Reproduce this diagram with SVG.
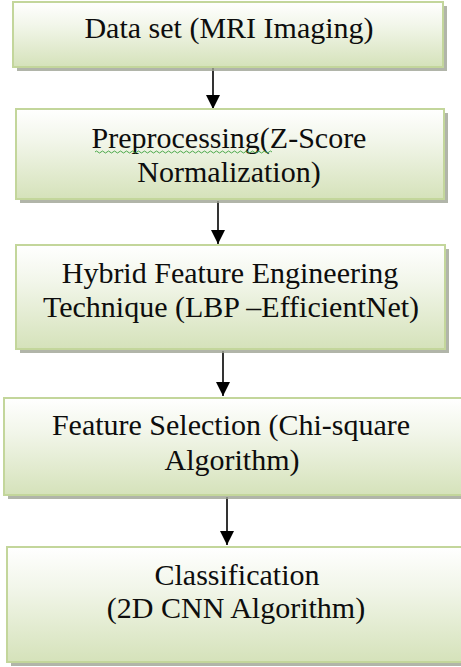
<svg xmlns="http://www.w3.org/2000/svg" width="461" height="667" viewBox="0 0 461 667">
<defs>
<linearGradient id="g" x1="0" y1="0" x2="0" y2="1">
<stop offset="0" stop-color="#ffffff"/>
<stop offset="0.35" stop-color="#f2f6ea"/>
<stop offset="1" stop-color="#d5e2ba"/>
</linearGradient>
<marker id="ah" markerWidth="14" markerHeight="14" refX="14" refY="7" orient="auto" markerUnits="userSpaceOnUse">
<path d="M0,0 L14,7 L0,14 Z" fill="#000"/>
</marker>
</defs>
<style>
.sh{fill:#9ea394;opacity:0.8}
.bx{fill:url(#g);stroke:#c3d69b;stroke-width:2}
text{font-family:'Liberation Serif','Times New Roman',serif;font-size:30px;fill:#0d0d0d;text-anchor:middle}
.c{stroke:#000;stroke-width:1.6;fill:none;marker-end:url(#ah)}
</style>
<rect width="461" height="667" fill="#fff"/>
<g id="connectors">
<line class="c" x1="213" y1="68" x2="213" y2="109"/>
<line class="c" x1="218" y1="201" x2="218" y2="244"/>
<line class="c" x1="223" y1="351" x2="223" y2="396"/>
<line class="c" x1="227" y1="497" x2="227" y2="545"/>
</g>
<g id="n1">
<rect class="sh" x="17" y="6" width="430" height="65"/>
<rect class="bx" x="13" y="2" width="430" height="65"/>
<text x="229" y="38">Data set (MRI Imaging)</text>
</g>
<g id="n2">
<rect class="sh" x="20" y="113" width="428" height="90"/>
<rect class="bx" x="16" y="109" width="428" height="90"/>
<text x="229" y="148">Preprocessing(Z-Score</text>
<text x="229" y="182">Normalization)</text>
<path d="M95,152 q1.5,-2 3,0 t3,0 t3,0 t3,0 t3,0 t3,0 t3,0 t3,0 t3,0 t3,0 t3,0 t3,0 t3,0 t3,0 t3,0 t3,0 t3,0 t3,0 t3,0 t3,0 t3,0 t3,0 t3,0 t3,0 t3,0 t3,0 t3,0 t3,0 t3,0 t3,0 t3,0 t3,0 t3,0 t3,0 t3,0 t3,0 t3,0 t3,0 t3,0 t3,0 t3,0 t3,0 t3,0 t3,0 t3,0 t3,0 t3,0 t3,0 t3,0 t3,0 t3,0 t3,0 t3,0 t3,0 t3,0 t3,0 t3,0 t3,0 t3,0" fill="none" stroke="#3aa03a" stroke-width="0.9"/>
</g>
<g id="n3">
<rect class="sh" x="20" y="249" width="429" height="104"/>
<rect class="bx" x="16" y="245" width="429" height="104"/>
<text x="230" y="283">Hybrid Feature Engineering</text>
<text x="231" y="317">Technique (LBP –EfficientNet)</text>
</g>
<g id="n4">
<rect class="sh" x="8" y="402" width="460" height="97"/>
<rect class="bx" x="4" y="398" width="460" height="97"/>
<text x="231" y="435">Feature Selection (Chi-square</text>
<text x="232" y="470">Algorithm)</text>
</g>
<g id="n5">
<rect class="sh" x="11" y="551" width="460" height="115"/>
<rect class="bx" x="7" y="547" width="460" height="115"/>
<text x="237" y="585">Classification</text>
<text x="236" y="618">(2D CNN Algorithm)</text>
</g>
</svg>
